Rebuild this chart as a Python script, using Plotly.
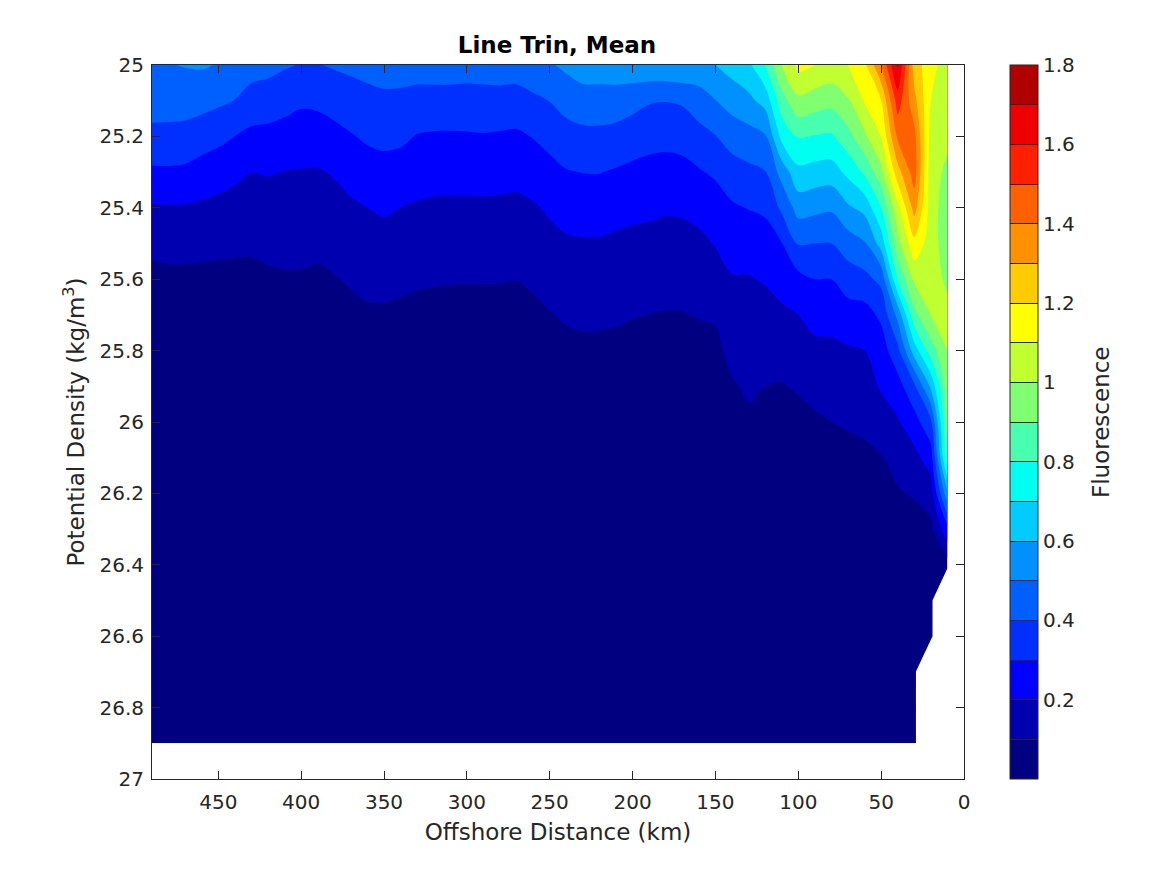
import plotly.graph_objects as go

distance_km = [490,480,470,460,450,440,430,420,410,400,
               390,380,370,360,350,340,330,320,310,300,
               290,280,270,260,250,240,230,220,210,200,
               190,180,170,160,150,140,130,120,110,100,
               90,80,70,60,50,40,30,20,10]
density = [25.0,25.1,25.2,25.3,25.4,25.5,25.6,25.7,25.8,25.9,
           26.0,26.1,26.2,26.3,26.4,26.5,26.6,26.7,26.8,26.9]

r2500 = [.49,.495,.505,.51,.495,.47,.44,.43,.41,.395,
         .395,.41,.42,.43,.44,.44,.44,.45,.45,.44,
         .44,.45,.45,.47,.49,.52,.55,.55,.56,.57,
         .58,.58,.59,.57,.60,.64,.68,.80,1.0,1.13,
         1.10,1.07,1.10,1.18,1.40,1.72,1.25,1.14,1.04]
r2510 = [.44,.44,.44,.434,.417,.398,.361,.35,.334,.315,
         .32,.34,.356,.372,.38,.378,.367,.36,.36,.363,
         .367,.363,.358,.38,.402,.436,.456,.457,.451,.433,
         .408,.403,.412,.452,.498,.54,.575,.636,.857,.976,
         .95,.934,.99,1.11,1.2,1.55,1.33,1.10,1.04]
r2520 = [.375,.373,.368,.346,.327,.30,.276,.272,.261,.25,
         .253,.27,.293,.314,.323,.32,.295,.29,.289,.29,
         .293,.289,.285,.304,.332,.362,.374,.375,.367,.347,
         .332,.327,.336,.365,.397,.442,.463,.49,.73,.809,
         .795,.787,.867,.98,1.105,1.42,1.43,1.06,1.02]
r2530 = [.283,.285,.28,.259,.241,.221,.201,.205,.198,.195,
         .193,.208,.234,.257,.267,.254,.24,.233,.232,.233,
         .235,.231,.226,.245,.269,.294,.302,.303,.291,.278,
         .27,.265,.27,.291,.317,.356,.378,.396,.5375,.673,
         .66,.654,.725,.817,.97,1.26,1.45,1.04,.98]
r2540 = [.19,.192,.19,.183,.174,.165,.158,.163,.162,.161,
         .158,.168,.185,.20,.211,.199,.19,.185,.183,.184,
         .184,.182,.18,.19,.212,.236,.244,.243,.232,.222,
         .216,.209,.213,.23,.245,.287,.304,.324,.418,.54,
         .525,.514,.585,.63,.80,1.07,1.34,1.05,.94]
r2550 = [.128,.134,.134,.128,.123,.118,.115,.123,.126,.126,
         .12,.131,.148,.163,.168,.16,.15,.146,.144,.144,
         .144,.143,.14,.152,.175,.186,.19,.19,.183,.177,
         .175,.17,.17,.178,.205,.24,.234,.238,.297,.406,
         .40,.40,.45,.49,.64,.96,1.17,1.05,.94]
r2560 = [.07,.075,.075,.075,.075,.075,.075,.085,.09,.09,
         .085,.095,.11,.125,.129,.12,.112,.108,.106,.105,
         .105,.104,.102,.114,.14,.149,.154,.152,.148,.142,
         .137,.135,.133,.142,.157,.193,.195,.206,.236,.269,
         .30,.30,.347,.37,.427,.80,1.02,1.05,.98]
r2570 = [.05,.05,.05,.05,.05,.05,.05,.055,.06,.06,
         .055,.065,.075,.085,.085,.08,.075,.07,.07,.07,
         .07,.07,.07,.08,.095,.111,.117,.116,.112,.104,
         .099,.095,.096,.105,.11,.16,.168,.172,.183,.20,
         .233,.236,.258,.26,.32,.53,.87,1.0,1.03]
r2580 = [.04,.04,.04,.04,.04,.04,.04,.04,.04,.04,
         .04,.045,.05,.055,.055,.05,.05,.05,.05,.05,
         .05,.05,.05,.05,.065,.075,.08,.08,.075,.07,
         .07,.065,.07,.065,.08,.126,.14,.138,.14,.155,
         .175,.178,.19,.20,.25,.37,.65,.85,1.0]
r2590 = [.03,.03,.03,.03,.03,.03,.03,.03,.03,.03,
         .03,.03,.035,.04,.04,.04,.035,.035,.035,.035,
         .035,.035,.035,.04,.045,.05,.05,.05,.05,.05,
         .05,.045,.05,.045,.055,.09,.113,.10,.095,.11,
         .13,.14,.15,.16,.21,.26,.38,.62,.96]
r2600 = [.025,.025,.025,.025,.025,.025,.025,.025,.025,.025,
         .025,.025,.025,.025,.025,.025,.025,.025,.025,.025,
         .025,.025,.025,.025,.025,.03,.03,.03,.03,.03,
         .03,.03,.03,.03,.03,.06,.085,.08,.075,.07,
         .085,.10,.11,.12,.15,.19,.26,.38,.93]
r2610 = [.02,.02,.02,.02,.02,.02,.02,.02,.02,.02,
         .02,.02,.02,.02,.02,.02,.02,.02,.02,.02,
         .02,.02,.02,.02,.02,.02,.02,.02,.02,.02,
         .02,.02,.02,.02,.02,.045,.055,.055,.05,.05,
         .06,.065,.07,.08,.095,.135,.17,.25,.87]
r2620 = [.018,.018,.018,.018,.018,.018,.018,.018,.018,.018,
         .018,.018,.018,.018,.018,.018,.018,.018,.018,.018,
         .018,.018,.018,.018,.018,.018,.018,.018,.018,.018,
         .018,.018,.018,.018,.018,.03,.035,.035,.035,.035,
         .04,.045,.05,.055,.06,.09,.11,.15,.58]
r2630 = [.015,.015,.015,.015,.015,.015,.015,.015,.015,.015,
         .015,.015,.015,.015,.015,.015,.015,.015,.015,.015,
         .015,.015,.015,.015,.015,.015,.015,.015,.015,.015,
         .015,.015,.015,.015,.015,.02,.02,.02,.02,.02,
         .025,.025,.03,.03,.035,.05,.05,.08,.27]
r2640 = [.012,.012,.012,.012,.012,.012,.012,.012,.012,.012,
         .012,.012,.012,.012,.012,.012,.012,.012,.012,.012,
         .012,.012,.012,.012,.012,.012,.012,.012,.012,.012,
         .012,.012,.012,.012,.012,.015,.015,.015,.015,.015,
         .015,.015,.02,.02,.02,.03,.03,.04,.06]
r2650 = [.01,.01,.01,.01,.01,.01,.01,.01,.01,.01,
         .01,.01,.01,.01,.01,.01,.01,.01,.01,.01,
         .01,.01,.01,.01,.01,.01,.01,.01,.01,.01,
         .01,.01,.01,.01,.01,.01,.01,.01,.01,.01,
         .01,.01,.01,.01,.01,.02,.02,.02,None]
r2660 = [.01,.01,.01,.01,.01,.01,.01,.01,.01,.01,
         .01,.01,.01,.01,.01,.01,.01,.01,.01,.01,
         .01,.01,.01,.01,.01,.01,.01,.01,.01,.01,
         .01,.01,.01,.01,.01,.01,.01,.01,.01,.01,
         .01,.01,.01,.01,.01,.01,.02,.01,None]
r2670 = [.008,.008,.008,.008,.008,.008,.008,.008,.008,.008,
         .008,.008,.008,.008,.008,.008,.008,.008,.008,.008,
         .008,.008,.008,.008,.008,.008,.008,.008,.008,.008,
         .008,.008,.008,.008,.008,.008,.008,.008,.008,.008,
         .008,.008,.008,.008,.008,.008,.01,None,None]
r2680 = [.006,.006,.006,.006,.006,.006,.006,.006,.006,.006,
         .006,.006,.006,.006,.006,.006,.006,.006,.006,.006,
         .006,.006,.006,.006,.006,.006,.006,.006,.006,.006,
         .006,.006,.006,.006,.006,.006,.006,.006,.006,.006,
         .006,.006,.006,.006,.006,.006,.008,None,None]
r2690 = [.005,.005,.005,.005,.005,.005,.005,.005,.005,.005,
         .005,.005,.005,.005,.005,.005,.005,.005,.005,.005,
         .005,.005,.005,.005,.005,.005,.005,.005,.005,.005,
         .005,.005,.005,.005,.005,.005,.005,.005,.005,.005,
         .005,.005,.005,.005,.005,.005,.008,None,None]

fluorescence = [r2500,r2510,r2520,r2530,r2540,r2550,r2560,r2570,r2580,r2590,
                r2600,r2610,r2620,r2630,r2640,r2650,r2660,r2670,r2680,r2690]
for row in fluorescence:
    assert len(row) == len(distance_km)

band_colors = ["#000080","#0000b0","#0000ff","#0030ff","#0060ff","#0090ff",
               "#00ccff","#00fff0","#48ffb0","#80ff70","#c0ff30","#ffff00",
               "#ffcc00","#ff9000","#ff6000","#ff2000","#ee0000","#b00000"]
cb_tickvals = [0.1,0.2,0.3,0.4,0.5,0.6,0.7,0.8,0.9,1.0,1.1,1.2,1.3,1.4,1.5,1.6,1.7,1.8]
cb_ticktext = ["","0.2","","0.4","","0.6","","0.8","","1","","1.2","","1.4","","1.6","","1.8"]

# Each level L is looked up by its own value, so the steps of the scale are
# centred on the levels.
n = len(band_colors)
scale = [[0, band_colors[0]]]
for i, c in enumerate(band_colors):
    lo = max(0, (i - 0.5) / (n))
    hi = min(1, (i + 0.5) / (n))
    if i > 0:
        scale.append([lo, c])
    scale.append([hi, c])
scale[-1][0] = 1

INK = "#262626"
FONT = "DejaVu Sans"
# Plot box in page pixels; the page adds 8px of body margin.
PAGE = 8
PL, PR, PT, PB = 152, 964, 65, 779
W, H = 1167 - PAGE, 875 - PAGE

fig = go.Figure(go.Contour(
    x=distance_km, y=density, z=fluorescence,
    zmin=0, zmax=1.8, autocontour=False,
    contours=dict(start=0.1, end=1.8, size=0.1, coloring="fill", showlines=False),
    line=dict(width=0),
    colorscale=scale,
    connectgaps=False,
    hoverongaps=False,
    colorbar=dict(
        x=(1010 - PL) / (PR - PL), xanchor="left", xref="paper",
        y=0.5, yanchor="middle", len=1, lenmode="fraction",
        thickness=28, thicknessmode="pixels", xpad=0, ypad=0,
        outlinecolor=INK, outlinewidth=1,
        tickmode="array", tickvals=cb_tickvals, ticktext=cb_ticktext,
        ticks="inside", ticklen=28, tickwidth=1, tickcolor=INK,
        tickfont=dict(family=FONT, size=20, color=INK),
    ),
))

fig.update_layout(
    width=W, height=H, autosize=False,
    margin=dict(l=PL - PAGE, r=1167 - PR, t=PT - PAGE, b=875 - PB, pad=0),
    paper_bgcolor="white", plot_bgcolor="white",
    font=dict(family=FONT, size=20, color=INK),
    title=dict(text="<b>Line Trin, Mean</b>", x=(557 - PAGE) / W, xanchor="center",
               y=1 - (45 - PAGE) / H, yanchor="middle",
               font=dict(family=FONT, size=23, color="black")),
    annotations=[dict(
        text="Fluorescence", textangle=-90, showarrow=False,
        xref="paper", yref="paper",
        x=(1101 - PL) / (PR - PL), y=(PB - 422) / (PB - PT),
        xanchor="center", yanchor="middle",
        font=dict(family=FONT, size=23, color=INK),
    )],
)
fig.update_xaxes(
    range=[490, 0], tickmode="array", tickvals=[450,400,350,300,250,200,150,100,50,0],
    ticks="inside", ticklen=8, tickwidth=1, tickcolor=INK,
    showline=True, linecolor=INK, linewidth=1, mirror="ticks",
    showgrid=False, zeroline=False, ticklabelstandoff=5,
    tickfont=dict(family=FONT, size=20, color=INK),
    title=dict(text="Offshore Distance (km)", standoff=10,
               font=dict(family=FONT, size=23, color=INK)),
)
fig.update_yaxes(
    range=[27, 25], tickmode="array",
    tickvals=[25,25.2,25.4,25.6,25.8,26,26.2,26.4,26.6,26.8,27],
    ticktext=["25","25.2","25.4","25.6","25.8","26","26.2","26.4","26.6","26.8","27"],
    ticks="inside", ticklen=8, tickwidth=1, tickcolor=INK,
    showline=True, linecolor=INK, linewidth=1, mirror="ticks",
    showgrid=False, zeroline=False, ticklabelstandoff=3,
    tickfont=dict(family=FONT, size=20, color=INK),
    title=dict(text="Potential Density (kg/m<sup>3</sup>)", standoff=8,
               font=dict(family=FONT, size=23, color=INK)),
)
fig.write_html("out.html", config={"displayModeBar": False})
